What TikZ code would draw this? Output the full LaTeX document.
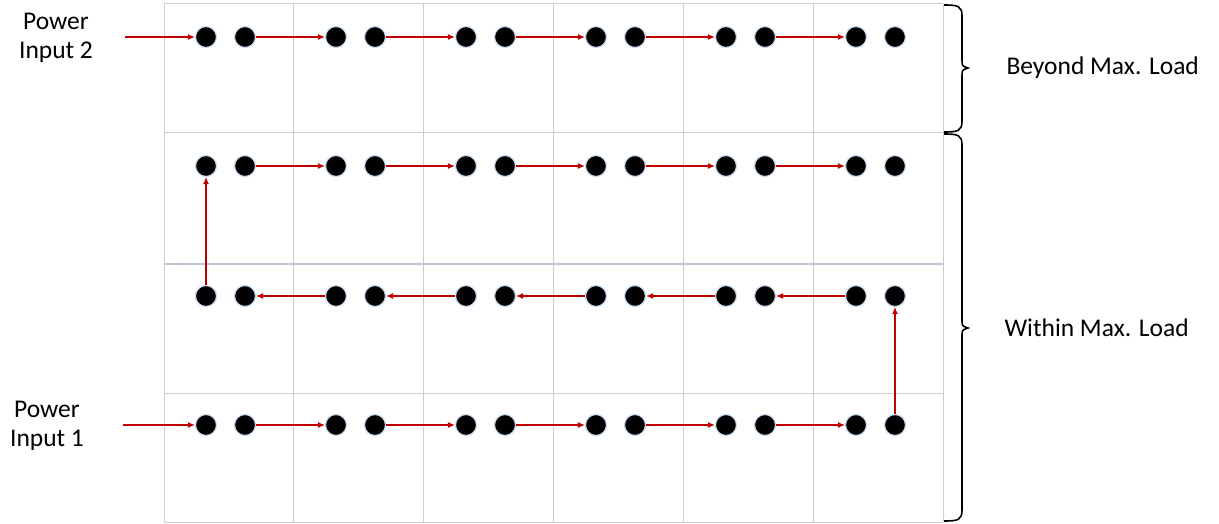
\documentclass[tikz,border=0pt]{standalone}
\usepackage{fontspec}
\setmainfont{Carlito}
\usetikzlibrary{arrows.meta}
\definecolor{wirered}{HTML}{C00000}
\definecolor{gridgray}{HTML}{CDCDCD}
\definecolor{gridblue}{HTML}{BCC7D6}
\definecolor{halo}{HTML}{C8DAEE}
\tikzset{
  cellline/.style={draw=gridgray,line width=1pt},
  pin/.style={circle,fill=black,draw=halo,line width=1.2pt,minimum size=21pt,inner sep=0pt},
  wire/.style={draw=wirered,line width=1.1pt,-{Latex[length=7pt,width=6pt]}},
  bracket/.style={draw=black,line width=1.6pt},
  lbl/.style={font=\fontsize{25.5}{29}\selectfont,align=center}
}
\begin{document}
\begin{tikzpicture}[x=1pt,y=-1pt]
\useasboundingbox (0,0) rectangle (1219,524);

% grid of cells
\foreach \x in {164,293,423,553,683,813,943}
  \draw[cellline] (\x,4) -- (\x,522);
\draw[cellline] (164,4) -- (943,4);
\draw[cellline] (164,133) -- (943,133);
\draw[draw=gridblue,line width=2.4pt] (164,264) -- (943,264);
\draw[cellline] (164,393) -- (943,393);
\draw[cellline] (164,522) -- (943,522);

% pins: p<row>-<col>-<a|b>
\foreach \r/\y in {1/37,2/166,3/296,4/425}{
  \foreach \c in {1,...,6}{
    \pgfmathsetmacro\xa{164+130*(\c-1)+42}
    \pgfmathsetmacro\xb{164+130*(\c-1)+81}
    \node[pin] (p\r-\c-a) at (\xa,\y) {};
    \node[pin] (p\r-\c-b) at (\xb,\y) {};
  }
}

% inputs
\node[lbl] (in2) at (56,38) {Power\\Input 2};
\node[lbl] (in1) at (47,426) {Power\\Input 1};
\coordinate (s2) at (125,37);
\coordinate (s1) at (123,425);

% wiring
\draw[wire] (s2) -- (p1-1-a);
\draw[wire] (s1) -- (p4-1-a);
\foreach \c [evaluate=\c as \n using int(\c+1)] in {1,...,5}{
  \draw[wire] (p1-\c-b) -- (p1-\n-a);
  \draw[wire] (p2-\c-b) -- (p2-\n-a);
  \draw[wire] (p4-\c-b) -- (p4-\n-a);
  \draw[wire] (p3-\n-a) -- (p3-\c-b);
}
\draw[wire] (p4-6-b) -- (p3-6-b);
\draw[wire] (p3-1-a) -- (p2-1-a);

% braces
\draw[bracket] (944,5) .. controls (958,5) and (962,6) .. (962,16) -- (962,60)
  .. controls (962,66) .. (968,68) .. controls (962,70) .. (962,76) -- (962,121)
  .. controls (962,131) and (958,132) .. (944,132);
\draw[bracket] (944,134) .. controls (958,134) and (962,135) .. (962,145) -- (962,320)
  .. controls (962,326) .. (968,328) .. controls (962,330) .. (962,336) -- (962,510)
  .. controls (962,520) and (958,521) .. (944,521);
\node[lbl,anchor=west] (beyond) at (1003,68) {Beyond Max. Load};
\node[lbl,anchor=west] (within) at (1001,328) {Within Max. Load};
\end{tikzpicture}
\end{document}
